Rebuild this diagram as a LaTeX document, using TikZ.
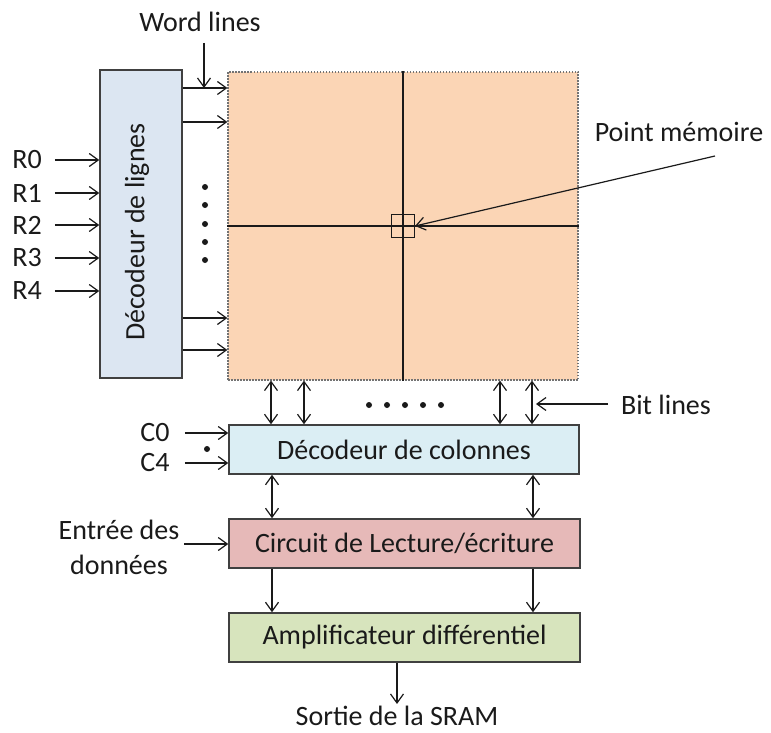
\documentclass[tikz,border=0pt]{standalone}
\usepackage{fontspec}
\setmainfont{Carlito}
\usetikzlibrary{arrows.meta,calc}

\definecolor{rowfill}{HTML}{DCE6F2}
\definecolor{arrayfill}{HTML}{FBD5B5}
\definecolor{colfill}{HTML}{DBEEF4}
\definecolor{rwfill}{HTML}{E6B9B8}
\definecolor{ampfill}{HTML}{D7E4BD}
\definecolor{edge}{HTML}{404040}
\definecolor{ink}{HTML}{1A1A1A}

\begin{document}
\begin{tikzpicture}[x=1pt,y=-1pt,
  font=\fontsize{28}{35}\selectfont,
  tip/.tip={Straight Barb[length=9pt,width=13pt,line width=1.2pt]},
  arr/.style={draw=ink, line width=1.2pt, -tip},
  darr/.style={draw=ink, line width=1.2pt, tip-tip},
  block/.style={draw=edge, line width=1.5pt, inner sep=0pt, text=ink},
  lbl/.style={inner sep=0pt, text=ink},
  dot/.style={circle, fill=ink, inner sep=0pt, minimum size=6pt}]
\useasboundingbox (0,0) rectangle (771,733);

% main blocks
\node[block, fill=rowfill, minimum width=82pt, minimum height=308pt] (rowdec) at (141,224) {};
\node[lbl, rotate=90] (rowtxt) at (137,232) {Décodeur de lignes};
\node[draw=black!55, fill=arrayfill, line width=1.2pt, dash pattern=on 1.5pt off 1.5pt,
      inner sep=0pt, minimum width=350pt, minimum height=308pt] (array) at (403,226) {};
\node[block, fill=colfill, minimum width=350pt, minimum height=49pt] (coldec) at (404,449.5) {Décodeur de colonnes};
\node[block, fill=rwfill, minimum width=351pt, minimum height=49pt] (rw) at (404.5,543.5) {Circuit de Lecture/écriture};
\node[block, fill=ampfill, minimum width=351pt, minimum height=49pt] (amp) at (404.5,637.5) {Amplificateur différentiel};

% memory array grid and one cell
\draw[draw=ink, line width=1.2pt] (array.north) -- (array.south);
\draw[draw=ink, line width=1.2pt] (array.west) -- (array.east);
\node[draw=ink, line width=1.2pt, inner sep=0pt, minimum size=23pt] (cell) at (array.center) {};

% row address inputs
\foreach \n/\y in {0/160,1/193,2/225,3/258,4/291}{
  \node[lbl] (r\n) at (27,\y) {R\n};
  \draw[arr] ([xshift=13pt]r\n.east) -- (rowdec.west |- r\n);
}

% word lines
\foreach \i/\y in {1/88,2/122,3/318,4/350}{
  \coordinate (wl\i) at (0,\y);
  \draw[arr] (rowdec.east |- wl\i) -- (array.west |- wl\i);
}
\foreach \y in {187,205,224,242,260}{ \node[dot] at (205,\y) {}; }
\node[lbl] (wltxt) at (200,22) {Word lines};
\coordinate (wltail) at (204,43);
\draw[arr] (wltail) -- (wltail |- wl1);

% memory cell label
\node[lbl] (pmtxt) at (679,132) {Point mémoire};
\coordinate (pmtail) at (715,156);
\draw[arr] (pmtail) -- (cell.east);

% bit lines
\foreach \i/\x in {1/271,2/304,3/500,4/532}{
  \coordinate (bl\i) at (\x,0);
  \draw[darr] (array.south -| bl\i) -- (coldec.north -| bl\i);
}
\foreach \x in {369,387,405,423,441}{ \node[dot] at (\x,405) {}; }
\node[lbl] (bltxt) at (666,405) {Bit lines};
\coordinate (bltail) at (608,404);
\draw[arr] (bltail) -- (536,404);

% column address inputs
\node[lbl] (c0) at (155,433) {C0};
\node[lbl] (c4) at (155,463) {C4};
\draw[arr] ([xshift=15pt]c0.east) -- (coldec.west |- c0);
\draw[arr] ([xshift=15pt]c4.east) -- (coldec.west |- c4);
\node[dot] at (207,449) {};

% data path
\foreach \x in {272,533}{
  \coordinate (dp) at (\x,0);
  \draw[darr] (coldec.south -| dp) -- (rw.north -| dp);
  \draw[arr] (rw.south -| dp) -- (amp.north -| dp);
}
\node[lbl, align=center] (intxt) at (119,547) {Entrée des\\données};
\coordinate (intail) at (184,544);
\draw[arr] (intail) -- (rw.west |- intail);

\node[lbl] (outtxt) at (397,716) {Sortie de la SRAM};
\draw[arr] (amp.south -| outtxt) -- ([yshift=2pt]outtxt.north);
\end{tikzpicture}
\end{document}
